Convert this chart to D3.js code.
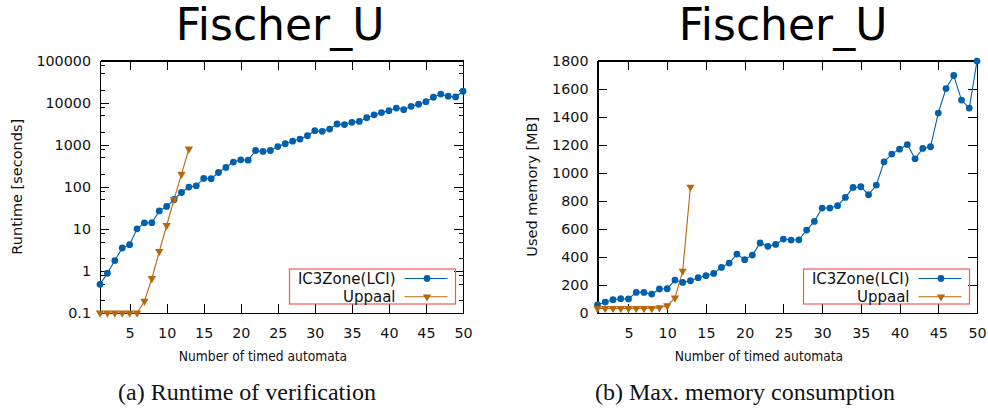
<!DOCTYPE html>
<html>
<head>
<meta charset="utf-8">
<title>Fischer_U</title>
<script src="https://cdnjs.cloudflare.com/ajax/libs/d3/7.8.5/d3.min.js"></script>
<style>
    body { margin: 0; background: #fff; }
    svg { display: block; font-family: "DejaVu Sans", sans-serif; }
    .axis path, .axis line { stroke: #000; shape-rendering: crispEdges; }
    .axis text { font-family: "DejaVu Sans", sans-serif; font-size: 14.3px; fill: #111; }
    .caption { font-family: "Liberation Serif", serif; font-size: 24px; fill: #111; }
</style>
</head>
<body>
<script>
/*========= DATA =========*/
var automata = d3.range(1, 51);   // number of timed automata, 1..50

var runtimeIC3 = [0.48, 0.88, 1.76, 3.5, 4.2, 10, 13.9, 14, 26.6, 34,
                  50, 73, 98, 105, 158, 155, 218, 288, 385, 436,
                  428, 726, 690, 726, 900, 1050, 1210, 1360, 1630, 2150,
                  2080, 2350, 3100, 3000, 3400, 3570, 4360, 5120, 5780, 6420,
                  7420, 6790, 8130, 9120, 10500, 13400, 15900, 14200, 13600, 18600];
var runtimeUppaal = [0.1, 0.1, 0.1, 0.1, 0.1, 0.1, 0.19, 0.66, 2.9, 12, 50, 200, 790];

var memoryIC3 = [57, 78, 95, 102, 100, 147, 147, 135, 171, 173,
                 235, 218, 230, 252, 266, 282, 325, 356, 420, 380,
                 413, 499, 475, 489, 527, 520, 522, 591, 653, 748,
                 748, 765, 824, 895, 900, 843, 912, 1078, 1133, 1168,
                 1201, 1099, 1173, 1185, 1425, 1600, 1693, 1518, 1461, 1796];
var memoryUppaal = [33, 33, 33, 33, 33, 33, 33, 33, 38, 52, 107, 299, 898];

var seriesNames = ["IC3Zone(LCI)", "Uppaal"];
var xTicks = d3.range(5, 51, 5);
var runtimeTicks = [0.1, 1, 10, 100, 1000, 10000, 100000];
var runtimeMinor = [0.2, 0.5, 0.8, 2, 5, 8, 20, 50, 80, 200, 500, 800, 2000, 5000, 8000, 20000, 50000, 80000];
var memoryTicks = d3.range(0, 1801, 200);

/*========= STYLE =========*/
var blue = "#0060ad";
var orange = "#b8680c";

var svg = d3.select("body").append("svg").attr("width", 988).attr("height", 410);

function panel(o) {
    var x = d3.scaleLinear().domain([1, 50]).range([o.x0, o.x1]);
    var y = o.y;
    var g = svg.append("g");

    // frame with inward ticks on all four sides
    g.append("g").attr("class", "axis")
        .attr("transform", "translate(0," + o.y1 + ")")
        .call(d3.axisBottom(x).tickValues(xTicks).tickSizeInner(-9).tickSizeOuter(0).tickPadding(15));
    g.append("g").attr("class", "axis")
        .attr("transform", "translate(0," + o.y0 + ")")
        .call(d3.axisTop(x).tickValues(xTicks).tickSizeInner(-9).tickSizeOuter(0).tickFormat(""));
    g.append("g").attr("class", "axis")
        .attr("transform", "translate(" + o.x0 + ",0)")
        .call(d3.axisLeft(y).tickValues(o.ticks).tickSizeInner(-9).tickSizeOuter(0).tickPadding(9)
            .tickFormat(d => String(d)));
    g.append("g").attr("class", "axis")
        .attr("transform", "translate(" + o.x1 + ",0)")
        .call(d3.axisRight(y).tickValues(o.ticks).tickSizeInner(-9).tickSizeOuter(0).tickFormat(""));
    if (o.minor) {
        g.append("g").attr("class", "axis")
            .attr("transform", "translate(" + o.x0 + ",0)")
            .call(d3.axisLeft(y).tickValues(o.minor).tickSizeInner(-4.5).tickSizeOuter(0).tickFormat(""));
        g.append("g").attr("class", "axis")
            .attr("transform", "translate(" + o.x1 + ",0)")
            .call(d3.axisRight(y).tickValues(o.minor).tickSizeInner(-4.5).tickSizeOuter(0).tickFormat(""));
    }
    g.selectAll(".axis path").attr("stroke-width", 1.3);

    // titles and labels
    g.append("text").attr("x", o.titleX).attr("y", 39.5).attr("text-anchor", "middle")
        .attr("font-size", 44).attr("fill", "#000").text("Fischer_U");
    g.append("text").attr("transform", "translate(" + o.ylabelX + "," + ((o.y0 + o.y1) / 2) + ") rotate(-90)")
        .attr("text-anchor", "middle").attr("dy", "0.35em").attr("font-size", 14.5).attr("fill", "#111")
        .text(o.ylabel);
    g.append("text").attr("x", o.xlabelX).attr("y", 361).attr("text-anchor", "middle")
        .attr("font-size", 13.7).attr("fill", "#111").style("font-stretch", "condensed")
        .attr("font-family", "'DejaVu Sans Condensed', 'DejaVu Sans', sans-serif")
        .text("Number of timed automata");
    g.append("text").attr("class", "caption").attr("x", o.captionX).attr("y", 400)
        .attr("text-anchor", "middle").text(o.caption);

    // series
    var line = d3.line().x((d, i) => x(automata[i])).y(d => y(d));
    g.append("path").attr("d", line(o.ic3)).attr("fill", "none").attr("stroke", blue).attr("stroke-width", 1.1);
    g.append("path").attr("d", line(o.uppaal)).attr("fill", "none").attr("stroke", orange).attr("stroke-width", 1.1);

    g.selectAll(".dot").data(o.ic3).enter().append("circle")
        .attr("cx", (d, i) => x(automata[i])).attr("cy", d => y(d)).attr("r", 3.4).attr("fill", blue);
    var tri = d3.symbol().type(d3.symbolTriangle).size(30);
    g.selectAll(".tri").data(o.uppaal).enter().append("path")
        .attr("d", tri)
        .attr("transform", (d, i) => "translate(" + x(automata[i]) + "," + y(d) + ") rotate(180)")
        .attr("fill", orange);

    // legend
    var lg = g.append("g").attr("transform", "translate(" + o.legendX + ",269)");
    lg.append("rect").attr("width", 166).attr("height", 35).attr("fill", "none")
        .attr("stroke", "#f25a5a").attr("stroke-width", 1.2);
    var rows = [{ name: seriesNames[0], c: blue, m: "dot" }, { name: seriesNames[1], c: orange, m: "tri" }];
    rows.forEach(function (r, k) {
        var cy = 9.5 + k * 18.3;
        lg.append("text").attr("x", 106).attr("y", cy).attr("dy", "0.36em").attr("text-anchor", "end")
            .attr("font-size", 15).attr("fill", "#111").text(r.name);
        lg.append("line").attr("x1", 115).attr("x2", 158).attr("y1", cy).attr("y2", cy)
            .attr("stroke", r.c).attr("stroke-width", 1.1);
        if (r.m === "dot") {
            lg.append("circle").attr("cx", 137.5).attr("cy", cy).attr("r", 3.4).attr("fill", r.c);
        } else {
            lg.append("path").attr("d", tri).attr("transform", "translate(137.5," + cy + ") rotate(180)").attr("fill", r.c);
        }
    });
}

panel({
    x0: 100, x1: 463, y0: 60.5, y1: 313,
    y: d3.scaleLog().domain([0.1, 100000]).range([313, 60.5]),
    ticks: runtimeTicks, minor: runtimeMinor,
    ic3: runtimeIC3, uppaal: runtimeUppaal,
    titleX: 280, ylabel: "Runtime [seconds]", ylabelX: 17, xlabelX: 263,
    caption: "(a) Runtime of verification", captionX: 247, legendX: 289.5
});

panel({
    x0: 597.5, x1: 977, y0: 60.5, y1: 313,
    y: d3.scaleLinear().domain([0, 1800]).range([313, 60.5]),
    ticks: memoryTicks, minor: null,
    ic3: memoryIC3, uppaal: memoryUppaal,
    titleX: 783, ylabel: "Used memory [MB]", ylabelX: 532, xlabelX: 759,
    caption: "(b) Max. memory consumption", captionX: 745, legendX: 803.5
});
</script>
</body>
</html>
